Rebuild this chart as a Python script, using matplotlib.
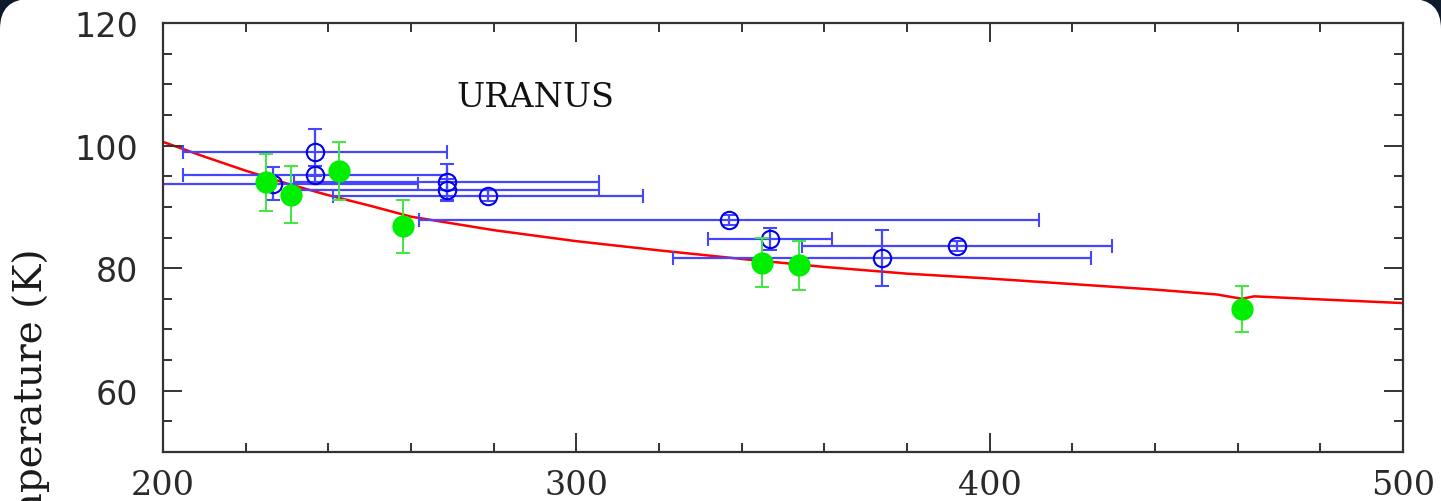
import numpy as np
import matplotlib.pyplot as plt
from matplotlib.patches import FancyBboxPatch
from matplotlib.ticker import MultipleLocator

# =============================
# Data
# =============================
# model curve
model_x = [200, 210, 220, 230, 240, 250, 260, 270, 280, 290, 300, 320, 340, 360,
           380, 400, 420, 440, 455, 461, 464, 480, 500]
model_y = [100.6, 98.2, 95.9, 93.8, 91.9, 90.2, 88.4, 87.3, 86.2, 85.3, 84.4, 82.9,
           81.5, 80.2, 79.1, 78.3, 77.4, 76.5, 75.7, 75.0, 75.4, 74.9, 74.3]

# open blue circles (x and y errors)
blue_x = [236.8, 236.8, 226.7, 268.6, 268.6, 278.7, 337.0, 346.9, 373.9, 392.0]
blue_y = [98.9, 95.2, 93.8, 94.0, 92.8, 91.85, 87.8, 84.7, 81.7, 83.6]
blue_xerr = [32, 32, 35, 37, 37, 37.5, 75, 15, 50.5, 37.5]
blue_yerr = [3.8, 1.5, 2.7, 3.0, 1.7, 0.9, 0.8, 1.8, 4.6, 0.8]

# filled green points (y errors)
green_x = [224.8, 231.0, 242.6, 258.0, 345.0, 353.9, 461.0]
green_y = [94.0, 92.0, 95.9, 86.8, 80.9, 80.45, 73.4]
green_yerr = [4.6, 4.6, 4.7, 4.3, 4.0, 4.0, 3.75]

# =============================
# Figure + rounded card background
# =============================
W, H = 1441, 502
fig = plt.figure(figsize=(W / 100, H / 100), dpi=100)
fig.patch.set_facecolor('#0e1a2b')

bg = fig.add_axes([0, 0, 1, 1])
bg.set_xlim(0, W)
bg.set_ylim(0, H)
bg.axis('off')
bg.add_patch(FancyBboxPatch((0, -80), W, H + 80,
                            boxstyle="round,pad=0,rounding_size=30",
                            fc='white', ec='none'))

ax = fig.add_axes([163 / W, 49 / H, 1240 / W, 429 / H])
ax.set_facecolor('white')

# =============================
# Plot
# =============================
ax.plot(model_x, model_y, color='#ff0000', lw=1.8, zorder=1)

ax.errorbar(blue_x, blue_y, xerr=blue_xerr, yerr=blue_yerr, fmt='o',
            mfc='none', mec='#0000ee', ms=12.5, mew=1.5,
            ecolor='#4646ff', elinewidth=1.6, capsize=4.7, capthick=1.6,
            zorder=2)

ax.errorbar(green_x, green_y, yerr=green_yerr, fmt='o',
            mfc='#00ee00', mec='#00ee00', ms=15,
            ecolor='#3ee83e', elinewidth=1.4, capsize=5, capthick=1.4,
            zorder=3)

ax.text(290, 108, "URANUS", ha='center', va='center',
        family='DejaVu Serif', fontsize=24, color='#111111')

# =============================
# Axes styling
# =============================
ax.set_xlim(200, 500)
ax.set_ylim(50, 120)
ax.xaxis.set_major_locator(MultipleLocator(100))
ax.xaxis.set_minor_locator(MultipleLocator(20))
ax.yaxis.set_major_locator(MultipleLocator(20))
ax.yaxis.set_minor_locator(MultipleLocator(5))
ax.set_yticks([60, 80, 100, 120])

for s in ax.spines.values():
    s.set_linewidth(1.6)
    s.set_color('#333333')

ax.tick_params(which='both', direction='in', top=True, right=True,
               width=1.4, color='#333333')
ax.tick_params(which='major', length=13.5)
ax.tick_params(which='minor', length=6.5)
ax.tick_params(axis='y', which='major', pad=18, labelsize=24,
               labelcolor='#2a2a2a')
ax.tick_params(axis='x', which='major', pad=12, labelsize=24,
               labelcolor='#2a2a2a')
for lab in ax.get_xticklabels():
    lab.set_family('DejaVu Serif')

# y label is partly cut off by the bottom edge, as in the source
fig.text(31 / W, 1 - 248 / H, "Temperature (K)", rotation=90,
         ha='center', va='top', family='DejaVu Serif', fontsize=28,
         color='#1a1a1a')

plt.savefig("out.png", dpi=100, facecolor=fig.get_facecolor())
